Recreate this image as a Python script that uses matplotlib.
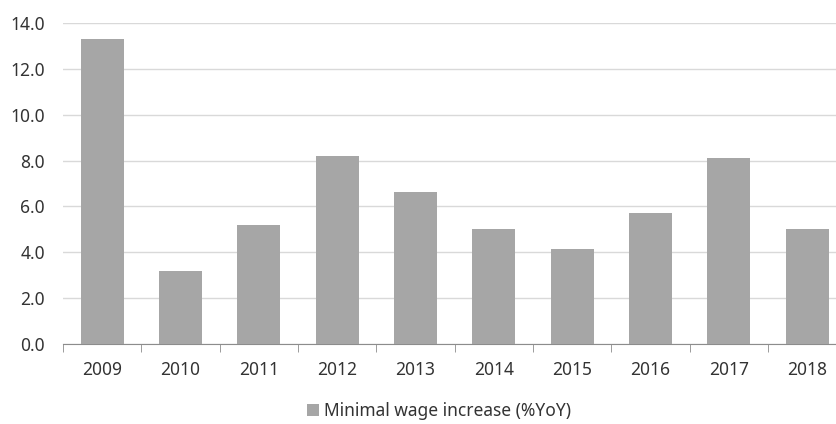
import matplotlib.pyplot as plt
import numpy as np

years = ['2009', '2010', '2011', '2012', '2013', '2014', '2015', '2016', '2017', '2018']
wage_increase = [13.3, 3.2, 5.2, 8.2, 6.65, 5.0, 4.15, 5.7, 8.1, 5.0]

plt.rcParams['font.family'] = ['Noto Sans', 'DejaVu Sans']

fig = plt.figure(figsize=(8.36, 4.24), dpi=100)
ax = fig.add_axes([0.0754, 0.1887, 0.937, 0.757])

x = np.arange(len(years))
ax.bar(x, wage_increase, width=0.55, color='#a6a6a6', zorder=3,
       label='Minimal wage increase (%YoY)')

ax.set_xlim(-0.5, len(years) - 0.5)
ax.set_ylim(0, 14)
ax.set_yticks(np.arange(0, 15, 2))
ax.set_yticklabels([f'{v:.1f}' for v in np.arange(0, 15, 2)])
ax.set_xticks(x)
ax.set_xticklabels(years)
ax.set_xticks(np.arange(-0.5, len(years), 1), minor=True)

ax.grid(axis='y', color='#d9d9d9', linewidth=1, zorder=0)
for s in ['top', 'right', 'left']:
    ax.spines[s].set_visible(False)
ax.spines['bottom'].set_color('#8c8c8c')

ax.tick_params(axis='x', which='major', length=0, pad=12, labelsize=12.5, labelcolor='#333333')
ax.tick_params(axis='x', which='minor', length=6, color='#8c8c8c', direction='out')
ax.tick_params(axis='y', length=0, pad=13, labelsize=12.5, labelcolor='#333333')

fig.legend(loc='center', bbox_to_anchor=(0.525, 0.03), frameon=False, fontsize=12.5,
           handlelength=0.7, handleheight=0.7, handletextpad=0.3,
           labelcolor='#333333')

fig.savefig('out.png', dpi=100)
